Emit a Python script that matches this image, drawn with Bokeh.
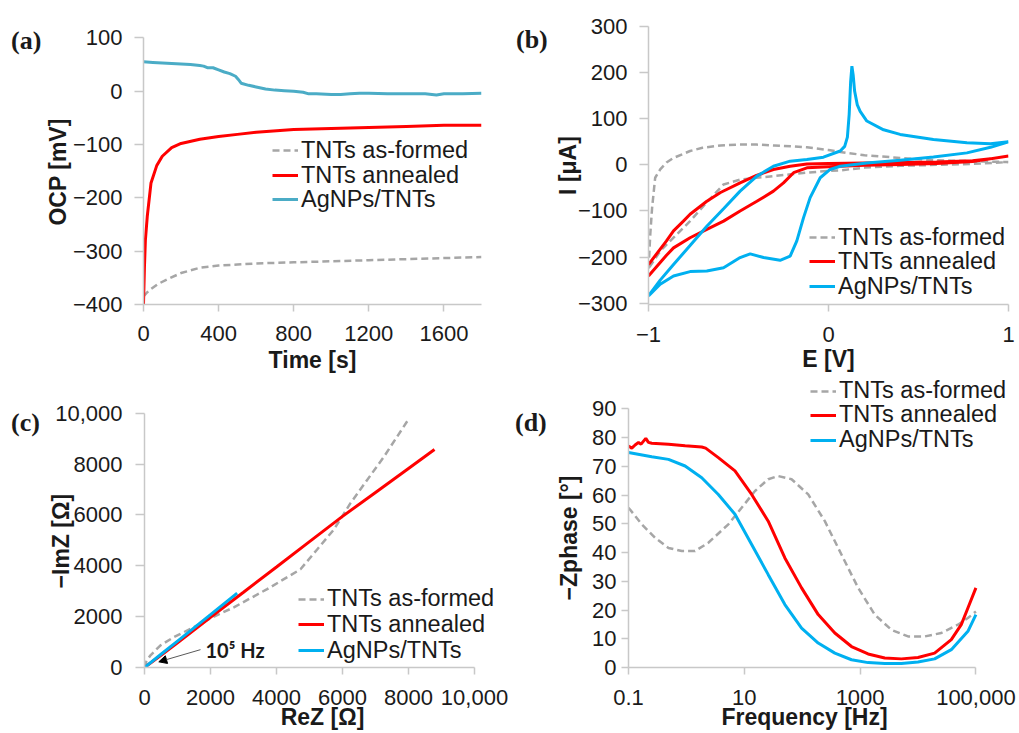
from bokeh.plotting import figure
from bokeh.models import Legend, LegendItem, Label, Arrow, NormalHead, FixedTicker, Range1d, Div
from bokeh.layouts import column, row
from bokeh.embed import file_html
from bokeh.resources import INLINE

# ---------------- data ----------------
series_names = ["TNTs as-formed", "TNTs annealed", "AgNPs/TNTs"]
panel_tags = ["(a)", "(b)", "(c)", "(d)"]

# (a) OCP vs time
a_t_asformed = [0, 20, 40, 75, 125, 200, 300, 400, 500, 600, 800, 1000, 1200, 1400, 1600, 1800]
a_v_asformed = [-385, -377, -371, -362, -353, -341, -331, -327, -325, -323, -321, -319, -317, -315, -313, -311]
a_t_annealed = [0, 5, 10, 20, 40, 70, 100, 150, 200, 300, 400, 500, 600, 800, 1000, 1200, 1400, 1600, 1800]
a_v_annealed = [-400, -330, -280, -235, -172, -140, -122, -106, -98, -90, -85, -81, -77, -72, -70, -68, -66, -64, -64]
a_t_ag = [0, 50, 100, 150, 200, 250, 300, 320, 340, 370, 400, 430, 460, 490, 505, 520, 560, 600, 650, 700, 750,
          800, 850, 880, 920, 1000, 1050, 1100, 1150, 1200, 1300, 1400, 1500, 1560, 1600, 1700, 1800]
a_v_ag = [55, 54, 53, 52, 51, 50, 48, 47, 44, 44, 40, 36, 33, 28, 22, 15, 11, 8, 4, 2, 1,
          0, -2, -5, -5, -6, -6, -5, -4, -4, -5, -5, -5, -7, -5, -5, -4]
a_xticks = [0, 400, 800, 1200, 1600]
a_yticks = [-400, -300, -200, -100, 0, 100]
a_ylabels = ["\u2212400", "\u2212300", "\u2212200", "\u2212100", "0", "100"]

# (b) cyclic voltammetry (closed loops)
b_E_asformed = [-1.0, -0.99, -0.98, -0.963, -0.935, -0.9, -0.861, -0.8, -0.769, -0.7, -0.6, -0.5, -0.4, -0.3,
                -0.2, -0.12, 0.0, 0.1, 0.2, 0.3, 0.4, 0.5, 0.6, 0.7, 0.8, 0.9, 1.0,
                0.8, 0.6, 0.4, 0.2, 0.065, 0.0, -0.12, -0.2, -0.306, -0.4, -0.491, -0.583, -0.694, -0.769,
                -0.861, -0.935, -1.0]
b_I_asformed = [-225, -150, -93, -28, -10, 5, 15, 25, 30, 37, 42, 44, 44, 42,
                40, 38, 32, 26, 21, 18, 15, 12, 10, 9, 8, 7, 6,
                2, 0, -2, -6, -12, -13, -17, -20, -24.5, -28, -32, -42.5, -89, -122,
                -158, -187, -225]
b_E_annealed = [-1.0, -0.9, -0.861, -0.806, -0.769, -0.676, -0.6, -0.491, -0.4, -0.306, -0.213, -0.12, 0.0,
                0.2, 0.4, 0.6, 0.8, 0.9, 1.0,
                0.8, 0.6, 0.4, 0.2, 0.0, -0.12, -0.194, -0.25, -0.306, -0.398, -0.491, -0.583, -0.676,
                -0.769, -0.861, -0.9, -1.0]
b_I_annealed = [-216, -165, -143, -122, -107, -79, -60, -39, -23, -10, -3, 2, 3,
                4, 5, 6, 9, 13, 19,
                7, 3, 1, -1, -4, -6.5, -17, -39, -57, -79, -100, -122, -140,
                -158, -180, -196, -241]
b_E_ag = [-1.0, -0.935, -0.861, -0.769, -0.676, -0.583, -0.491, -0.398, -0.306, -0.213, -0.12, -0.028, 0.065,
          0.09, 0.105, 0.115, 0.123, 0.13, 0.137, 0.145, 0.16, 0.176, 0.213, 0.306, 0.398, 0.583, 0.769, 0.9, 1.0,
          0.9, 0.769, 0.583, 0.398, 0.213, 0.065, 0.009, -0.046, -0.102, -0.139, -0.176, -0.213, -0.269,
          -0.361, -0.435, -0.491, -0.583, -0.676, -0.769, -0.861, -0.935, -1.0]
b_I_ag = [-284, -250, -216, -175, -133, -95, -57, -24.5, -3, 8, 11.6, 16.7, 30,
          40, 60, 110, 180, 214, 195, 160, 130, 116, 95, 76, 66, 55, 48, 46, 50,
          38, 26, 17, 10, 4, -3, -10, -28, -71, -115, -165, -198, -207,
          -201, -193, -201, -223, -230, -231.5, -241, -259, -284]
b_xticks = [-1, 0, 1]
b_xlabels = ["\u22121", "0", "1"]
b_yticks = [-300, -200, -100, 0, 100, 200, 300]
b_ylabels = ["\u2212300", "\u2212200", "\u2212100", "0", "100", "200", "300"]

# (c) Nyquist
c_re_asformed = [0, 60, 182, 485, 889, 1495, 2000, 2707, 3717, 4727, 5232, 5737, 6242, 6747, 7253, 8010]
c_im_asformed = [0, 250, 481, 871, 1196, 1586, 1937, 2366, 3082, 3862, 4642, 5423, 6463, 7373, 8283, 9779]
c_re_annealed = [0, 500, 1000, 2000, 3000, 4000, 5000, 6000, 7000, 8000, 8788]
c_im_annealed = [0, 480, 970, 1977, 2960, 3950, 4950, 5943, 6885, 7827, 8570]
c_re_ag = [0, 500, 1000, 2000, 2808]
c_im_ag = [0, 520, 1040, 2080, 2926]
c_ticks = [0, 2000, 4000, 6000, 8000, 10000]
c_labels = ["0", "2000", "4000", "6000", "8000", "10,000"]
c_note = "10\u2075 Hz"

# (d) Bode phase
d_f_asformed = [0.1, 0.17, 0.288, 0.49, 0.832, 1.41, 2.39, 5.3, 9.0, 15.3, 25.9, 38.5, 65.5, 127, 246, 476,
                925, 1790, 3470, 6730, 13030, 25240, 48980, 72780, 100000]
d_p_asformed = [55.6, 49.8, 45.1, 41.6, 40.5, 40.5, 43.4, 49.8, 55.6, 61.4, 65.5, 66.6, 65.5, 60.2, 50.9, 39.3,
                27.7, 18.4, 13.1, 10.8, 10.8, 12.0, 14.9, 17.2, 19.5]
d_f_annealed = [0.1, 0.114, 0.130, 0.149, 0.165, 0.199, 0.221, 0.252, 0.49, 0.95, 1.84, 2.15, 3.56, 6.9, 13.4,
                25.9, 50.2, 97.5, 189, 366, 710, 1374, 2661, 5164, 10000, 19360, 37580, 55850, 72780, 100000]
d_p_annealed = [77.1, 76.3, 77.4, 78.3, 77.7, 79.7, 78.3, 78.0, 77.7, 77.1, 76.7, 76.3, 73.0, 68.4, 60.2,
                50.9, 38.1, 27.7, 18.4, 12.0, 7.3, 4.7, 3.3, 3.0, 3.5, 5.0, 9.7, 14.9, 20.7, 27.7]
d_f_ag = [0.1, 0.252, 0.49, 0.95, 1.84, 3.56, 6.9, 13.4, 25.9, 50.2, 97.5, 189, 366, 710, 1374, 2661, 5164,
          10000, 19360, 37580, 72780, 100000]
d_p_ag = [74.8, 73.3, 72.4, 70.1, 66.0, 60.2, 53.3, 42.8, 32.3, 21.9, 13.7, 8.5, 5.0, 2.7, 1.7, 1.4, 1.4,
          1.9, 3.0, 6.2, 12.6, 18.4]
d_xticks = [0.1, 10, 1000, 100000]
d_xlabels = ["0.1", "10", "1000", "100,000"]
d_yticks = [0, 10, 20, 30, 40, 50, 60, 70, 80, 90]

# ---------------- styling ----------------
GREY = "#A6A6A6"
RED = "#FF0000"
TEAL = "#4BACC6"
BLUE = "#00B0F0"
AXC = "#C8C8C8"
TXT = "#1A1A1A"
SANS = "Liberation Sans"
NB = "\u00a0"  # pads an axis title so it sits over the data extent, not the widened frame


def make_fig(w, h, xr, yr, bl, br, bt, bb, x_type="linear"):
    p = figure(width=w, height=h, x_range=xr, y_range=yr, x_axis_type=x_type,
               output_backend="svg", toolbar_location=None,
               min_border_left=bl, min_border_right=br, min_border_top=bt, min_border_bottom=bb)
    p.grid.visible = False
    p.outline_line_color = None
    p.background_fill_color = "white"
    p.border_fill_color = "white"
    for ax in p.axis:
        ax.axis_line_color = AXC
        ax.axis_line_width = 1.5
        ax.major_tick_line_color = AXC
        ax.major_tick_line_width = 1.5
        ax.minor_tick_line_color = None
        ax.major_tick_in = 0
        ax.major_label_text_font = SANS
        ax.major_label_text_font_size = "22px"
        ax.major_label_text_line_height = 1.0
        ax.major_label_text_color = TXT
        ax.axis_label_text_font = SANS
        ax.axis_label_text_font_size = "23px"
        ax.axis_label_text_line_height = 1.0
        ax.axis_label_text_font_style = "bold"
        ax.axis_label_text_color = TXT
    return p


def axes(p, xticks, xlabels, yticks, ylabels, xlab, ylab, xout, xstand, xlstand, yout, ystand, ylstand):
    p.xaxis.ticker = FixedTicker(ticks=xticks)
    p.yaxis.ticker = FixedTicker(ticks=yticks)
    p.xaxis.major_label_overrides = {t: l for t, l in zip(xticks, xlabels)}
    p.yaxis.major_label_overrides = {t: l for t, l in zip(yticks, ylabels)}
    p.xaxis.axis_label = xlab
    p.yaxis.axis_label = ylab
    p.xaxis.major_tick_out = xout
    p.xaxis.major_label_standoff = xstand
    p.xaxis.axis_label_standoff = xlstand
    p.yaxis.major_tick_out = yout
    p.yaxis.major_label_standoff = ystand
    p.yaxis.axis_label_standoff = ylstand


def legend(p, renderers, x, ys):
    # one single-entry legend per series, so that the row pitch can be set freely
    for n, r, y in zip(series_names, renderers, ys):
        lg = Legend(items=[LegendItem(label=n, renderers=[r])], location=(x, y), margin=0, padding=0,
                    spacing=0, glyph_width=26, glyph_height=24, label_height=24, label_standoff=3,
                    label_text_font=SANS, label_text_font_size="23.5px",
                    label_text_color=TXT, background_fill_alpha=0, border_line_alpha=0)
        p.add_layout(lg)


def tag_div(text, w, h, left, top):
    html = ('<div style="padding:%dpx 0 0 %dpx; font-family:\'Liberation Serif\'; font-weight:bold; '
            'font-size:26px; line-height:26px; color:%s; white-space:nowrap;">%s</div>' % (top, left, TXT, text))
    return Div(text=html, width=w, height=h, margin=0)


DASH = "7 4"
LW = 3

# ---- (a)  (frame top shared with (b); axis line kept to -400..100)
pa = make_fig(471, 376, Range1d(0, 1800), Range1d(-400, 121.3), 102, 31, 26, 72)
axes(pa, a_xticks, [str(t) for t in a_xticks], a_yticks, a_ylabels, "Time [s]", "OCP [mV]" + NB * 2,
     7, 14, 3, 9, 12, -1)
pa.yaxis.bounds = (-400, 100)
ra1 = pa.line(a_t_asformed, a_v_asformed, line_color=GREY, line_width=2.5, line_dash=DASH)
ra2 = pa.line(a_t_annealed, a_v_annealed, line_color=RED, line_width=LW)
ra3 = pa.line(a_t_ag, a_v_ag, line_color=TEAL, line_width=LW)
legend(pa, [ra1, ra2, ra3], 129, [140.4, 115.4, 91.4])

# ---- (b)
pb = make_fig(469, 376, Range1d(-1, 1), Range1d(-302.8, 300), 98, 11, 26, 72)
axes(pb, b_xticks, b_xlabels, b_yticks, b_ylabels, "E [V]", "I [\u03bcA]",
     7, 15, 1, 9, 12, -6)
rb1 = pb.line(b_E_asformed, b_I_asformed, line_color=GREY, line_width=2.5, line_dash=DASH)
rb2 = pb.line(b_E_annealed, b_I_annealed, line_color=RED, line_width=LW)
rb3 = pb.line(b_E_ag, b_I_ag, line_color=BLUE, line_width=LW)
legend(pb, [rb1, rb2, rb3], 161, [53.4, 29.4, 4.4])

# ---- (c)  (frame widened/raised to hold legend; axis lines kept to 0..10,000)
pc = make_fig(470, 357, Range1d(0, 10788), Range1d(0, 11443), 102, 12, 0, 66)
axes(pc, c_ticks, c_labels, c_ticks, c_labels, "ReZ [\u03a9]", "\u2212ImZ [\u03a9]" + NB * 6,
     7, 15, -4, 9, 13, -22)
pc.xaxis.bounds = (0, 10000)
pc.yaxis.bounds = (0, 10000)
rc1 = pc.line(c_re_asformed, c_im_asformed, line_color=GREY, line_width=2.5, line_dash=DASH)
rc2 = pc.line(c_re_annealed, c_im_annealed, line_color=RED, line_width=LW)
rc3 = pc.line(c_re_ag, c_im_ag, line_color=BLUE, line_width=LW)
legend(pc, [rc1, rc2, rc3], 154, [54.7, 29.1, 3.1])
pc.add_layout(Arrow(end=NormalHead(size=8, fill_color="black", line_color="black"),
                    x_start=1697, y_start=702, x_end=433, y_end=222,
                    line_color="#595959", line_width=1))
pc.add_layout(Label(x=1848, y=702, text=c_note, text_font="Lato", text_font_style="bold",
                    text_font_size="20px", text_color=TXT, text_baseline="middle", text_align="left"))

# ---- (d)  (frame raised/widened to hold the legend; axis lines kept to data extent)
pd_ = make_fig(466, 357, Range1d(0.1, 428500), Range1d(0, 101.23), 74, 7, 0, 66, x_type="log")
axes(pd_, d_xticks, d_xlabels, d_yticks, [str(t) for t in d_yticks], "Frequency [Hz]" + NB * 5,
     "\u2212Zphase [\u00b0]" + NB * 5, 7, 15, -4, 7, 5, 7)
pd_.yaxis.bounds = (0, 90)
pd_.xaxis.bounds = (0.1, 100000)
rd1 = pd_.line(d_f_asformed, d_p_asformed, line_color=GREY, line_width=2.5, line_dash=DASH)
rd2 = pd_.line(d_f_annealed, d_p_annealed, line_color=RED, line_width=LW)
rd3 = pd_.line(d_f_ag, d_p_ag, line_color=BLUE, line_width=LW)
legend(pd_, [rd1, rd2, rd3], 182, [263.0, 239.0, 214.0])

layout = column(
    row(tag_div(panel_tags[0], 41, 376, 11, 28), pa, tag_div(panel_tags[1], 38, 376, 4, 27), pb),
    row(tag_div(panel_tags[2], 42, 357, 11, 34), pc, tag_div(panel_tags[3], 41, 357, 3, 34), pd_),
)
open("out.html", "w").write(file_html(layout, INLINE))
